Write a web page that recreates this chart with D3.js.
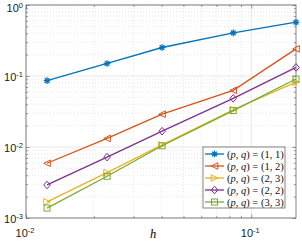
<!DOCTYPE html>
<html><head><meta charset="utf-8">
<script src="https://cdn.jsdelivr.net/npm/d3@7"></script>
<style>body{margin:0;background:#fff}svg{display:block}</style>
</head><body>
<svg id="c" width="302" height="241"></svg>
<script>
const h = [0.0124, 0.0229, 0.0402, 0.0832, 0.158];
const labels = ["(1,1)", "(1,2)", "(2,3)", "(2,2)", "(3,3)"];
const s11 = [0.086, 0.150, 0.252, 0.405, 0.572];
const s12 = [0.0059, 0.0132, 0.0290, 0.0628, 0.241];
const s23 = [0.00169, 0.00435, 0.0107, 0.0335, 0.082];
const s22 = [0.00292, 0.0072, 0.0167, 0.0485, 0.132];
const s33 = [0.00138, 0.00387, 0.0104, 0.0326, 0.0908];
const xTicks = [0.01, 0.1];
const yTicks = [1e-3, 1e-2, 1e-1, 1];

const colors = ["#0072BD", "#D95319", "#EDB120", "#7E2F8E", "#77AC30"];
const markers = ["star", "tleft", "tright", "diamond", "square"];
const series = [s11, s12, s23, s22, s33];

const svg = d3.select("#c");
const L = 26, R = 296, T = 5, B = 218;
const x = d3.scaleLog().domain([0.01, 0.158]).range([L, R]);
const y = d3.scaleLog().domain([1e-3, 1]).range([B, T]);

const xMinor = [], yMinor = [];
for (let e = -2; e <= -1; e++) for (let k = 2; k <= 9; k++) { const v = k * Math.pow(10, e); if (v <= 0.158) xMinor.push(v); }
for (let e = -3; e <= -1; e++) for (let k = 2; k <= 9; k++) yMinor.push(k * Math.pow(10, e));

const g = svg.append("g");
g.selectAll(".xm").data(xMinor).enter().append("line")
  .attr("x1", d => x(d)).attr("x2", d => x(d)).attr("y1", T).attr("y2", B)
  .attr("stroke", "#d8d8d8").attr("stroke-width", 0.6).attr("stroke-dasharray", "1,2");
g.selectAll(".ym").data(yMinor).enter().append("line")
  .attr("y1", d => y(d)).attr("y2", d => y(d)).attr("x1", L).attr("x2", R)
  .attr("stroke", "#d8d8d8").attr("stroke-width", 0.6).attr("stroke-dasharray", "1,2");
g.selectAll(".xM").data(xTicks).enter().append("line")
  .attr("x1", d => x(d)).attr("x2", d => x(d)).attr("y1", T).attr("y2", B)
  .attr("stroke", "#e2e2e2").attr("stroke-width", 0.8);
g.selectAll(".yM").data(yTicks).enter().append("line")
  .attr("y1", d => y(d)).attr("y2", d => y(d)).attr("x1", L).attr("x2", R)
  .attr("stroke", "#e2e2e2").attr("stroke-width", 0.8);

const axCol = "#555";
function ticksAxis(gen, tr) {
  const a = svg.append("g").attr("transform", tr).call(gen);
  a.select(".domain").remove();
  a.selectAll("text").remove();
  a.selectAll("line").attr("stroke", axCol).attr("stroke-width", 0.6);
  return a;
}
ticksAxis(d3.axisBottom(x).tickValues(xTicks).tickSize(-3.5), `translate(0,${B})`);
ticksAxis(d3.axisTop(x).tickValues(xTicks).tickSize(-3.5), `translate(0,${T})`);
ticksAxis(d3.axisBottom(x).tickValues(xMinor).tickSize(-2), `translate(0,${B})`);
ticksAxis(d3.axisTop(x).tickValues(xMinor).tickSize(-2), `translate(0,${T})`);
ticksAxis(d3.axisLeft(y).tickValues(yTicks).tickSize(-3.5), `translate(${L},0)`);
ticksAxis(d3.axisRight(y).tickValues(yTicks).tickSize(-3.5), `translate(${R},0)`);
ticksAxis(d3.axisLeft(y).tickValues(yMinor).tickSize(-2), `translate(${L},0)`);
ticksAxis(d3.axisRight(y).tickValues(yMinor).tickSize(-2), `translate(${R},0)`);

svg.append("rect").attr("x", L).attr("y", T).attr("width", R - L).attr("height", B - T)
  .attr("fill", "none").attr("stroke", "#666").attr("stroke-width", 0.8);

const font = "Liberation Sans, Arial, sans-serif";
function expLabel(sel, v) {
  const e = Math.round(Math.log10(v));
  sel.append("tspan").text("10");
  sel.append("tspan").attr("dy", -4).attr("font-size", 7.5).text(e < 0 ? "-" + (-e) : e);
}
yTicks.forEach(v => {
  const t = svg.append("text").attr("x", 23).attr("y", Math.max(y(v) + 4.5, 12)).attr("text-anchor", "end")
    .attr("font-family", font).attr("font-size", 11).attr("fill", "#222");
  expLabel(t, v);
});
xTicks.forEach(v => {
  const t = svg.append("text").attr("x", x(v) - 1).attr("y", 237).attr("text-anchor", "middle")
    .attr("font-family", font).attr("font-size", 11).attr("fill", "#222");
  expLabel(t, v);
});
svg.append("text").attr("x", 153).attr("y", 238).attr("text-anchor", "middle")
  .attr("font-family", "Liberation Serif, serif").attr("font-style", "italic").attr("font-size", 12.5).text("h");

function drawMarker(sel, type, cx, cy, col) {
  const m = sel.append("g").attr("transform", `translate(${cx},${cy})`);
  const st = { fill: "none", stroke: col, "stroke-width": 1 };
  const apply = e => { for (const k in st) e.attr(k, st[k]); return e; };
  const r = 3.3;
  if (type === "star") {
    for (let a = 0; a < 180; a += 45) {
      const rad = a * Math.PI / 180;
      m.append("line").attr("x1", -r * Math.cos(rad)).attr("y1", -r * Math.sin(rad))
        .attr("x2", r * Math.cos(rad)).attr("y2", r * Math.sin(rad)).attr("stroke", col).attr("stroke-width", 1.3);
    }
  } else if (type === "tleft") {
    apply(m.append("path").attr("d", `M${-r},0L${r},${-r}L${r},${r}Z`));
  } else if (type === "tright") {
    apply(m.append("path").attr("d", `M${r},0L${-r},${-r}L${-r},${r}Z`));
  } else if (type === "diamond") {
    apply(m.append("path").attr("d", `M0,${-r - 0.5}L${r},0L0,${r + 0.5}L${-r},0Z`));
  } else {
    apply(m.append("rect").attr("x", -r + 0.3).attr("y", -r + 0.3).attr("width", 2 * r - 0.6).attr("height", 2 * r - 0.6));
  }
}

const line = d3.line().x(d => x(d[0])).y(d => y(d[1]));
series.forEach((s, i) => {
  const pts = h.map((hv, j) => [hv, s[j]]);
  svg.append("path").datum(pts).attr("d", line).attr("fill", "none")
    .attr("stroke", colors[i]).attr("stroke-width", 1.3);
  pts.forEach(p => drawMarker(svg, markers[i], x(p[0]), y(p[1]), colors[i]));
});

const lg = svg.append("g");
lg.append("rect").attr("x", 203).attr("y", 147).attr("width", 82).attr("height", 61)
  .attr("fill", "#fff").attr("stroke", "#666").attr("stroke-width", 0.8);
labels.forEach((lab, i) => {
  const yy = 154 + i * 12;
  lg.append("line").attr("x1", 205).attr("x2", 224).attr("y1", yy).attr("y2", yy)
    .attr("stroke", colors[i]).attr("stroke-width", 1.3);
  drawMarker(lg, markers[i], 214.5, yy, colors[i]);
  const t = lg.append("text").attr("x", 227).attr("y", yy + 3.5)
    .attr("font-family", "Liberation Serif, serif").attr("font-size", 10.5).attr("fill", "#111");
  const nums = lab.replace(/[()]/g, "").split(",");
  t.append("tspan").text("(");
  t.append("tspan").attr("font-style", "italic").text("p");
  t.append("tspan").text(", ");
  t.append("tspan").attr("font-style", "italic").text("q");
  t.append("tspan").text(") = (" + nums[0] + ", " + nums[1] + ")");
});
</script>
</body></html>
